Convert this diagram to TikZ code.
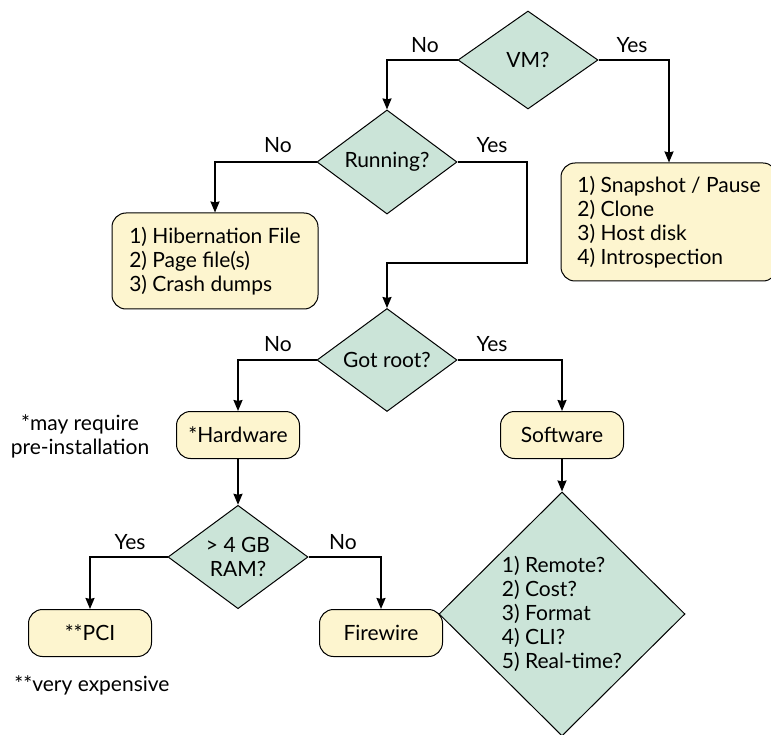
\documentclass[tikz,border=0pt]{standalone}
\usepackage{fontspec}
\setmainfont{Lato}
\usetikzlibrary{shapes.geometric,arrows.meta}
\definecolor{dgreen}{RGB}{203,228,216}
\definecolor{byellow}{RGB}{253,245,207}
\begin{document}
\begin{tikzpicture}[x=1pt,y=-1pt,
 font=\fontsize{21}{24}\selectfont,
 dec/.style={diamond, draw, fill=dgreen, line width=1pt, inner sep=0pt, minimum width=140pt, minimum height=98pt, align=center},
 box/.style={rectangle, rounded corners=14pt, draw, fill=byellow, line width=1pt, minimum width=123pt, minimum height=47pt, align=left},
 conn/.style={line width=1.7pt, -{Stealth[length=11pt,width=9pt,inset=1pt]}},
 lab/.style={inner sep=0pt}
]
\useasboundingbox (0,0) rectangle (771,735);
\node[dec] (vm) at (528,60) {VM?};
\node[dec] (run) at (387,162) {Running?};
\node[dec] (root) at (387,360) {Got root?};
\node[dec] (ram) at (238,557) {> 4 GB\\RAM?};
\node[dec, minimum width=246pt, minimum height=244pt, align=left] (sw) at (562,614) {1) Remote?\\2) Cost?\\3) Format\\4) CLI?\\5) Real-time?};
\node[box, minimum width=206pt, minimum height=96pt] (hib) at (215,261) {1) Hibernation File\\2) Page file(s)\\3) Crash dumps};
\node[box, minimum width=216pt, minimum height=118pt] (snap) at (669,222) {1) Snapshot / Pause\\2) Clone\\3) Host disk\\4) Introspection};
\node[box] (hw) at (238,435) {*Hardware};
\node[box] (soft) at (562,435) {Software};
\node[box] (pci) at (90,633) {**PCI};
\node[box] (fw) at (381,633) {Firewire};
\node[align=center] (note1) at (80,436) {*may require\\pre-installation};
\node (note2) at (92,685) {**very expensive};
\node[lab] (l1) at (425,45) {No};
\node[lab] (l2) at (632,45) {Yes};
\node[lab] (l3) at (278,145) {No};
\node[lab] (l4) at (492,145) {Yes};
\node[lab] (l5) at (278,344) {No};
\node[lab] (l6) at (492,344) {Yes};
\node[lab] (l7) at (130,542) {Yes};
\node[lab] (l8) at (343,542) {No};
\draw[conn] (vm.west) -| (run.north);
\draw[conn] (vm.east) -| (snap.north);
\draw[conn] (run.west) -| (hib.north);
\coordinate (bend) at (527,263);
\draw[conn] (run.east) -| (bend) -| (root.north);
\draw[conn] (root.west) -| (hw.north);
\draw[conn] (root.east) -| (soft.north);
\draw[conn] (hw.south) -- (ram.north);
\draw[conn] (soft.south) -- (sw.north);
\draw[conn] (ram.west) -| (pci.north);
\draw[conn] (ram.east) -| (fw.north);
\end{tikzpicture}
\end{document}
